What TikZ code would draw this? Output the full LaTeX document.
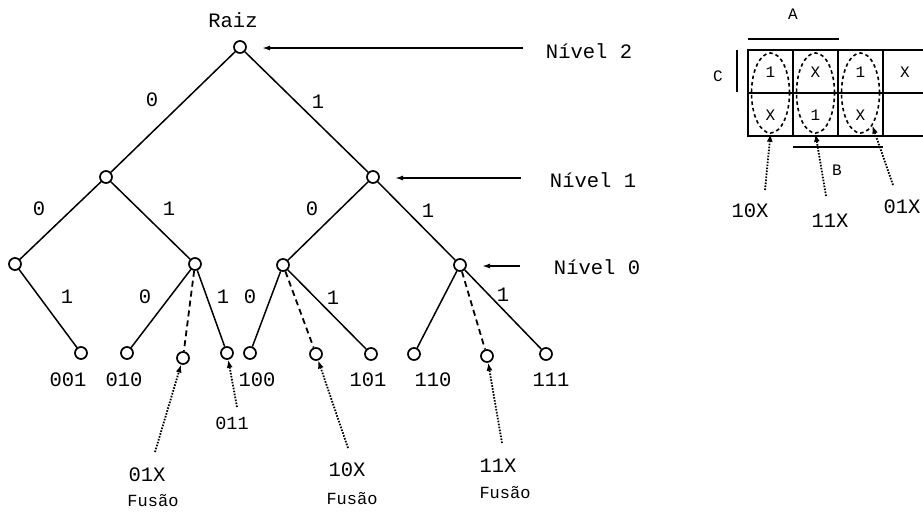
\documentclass[tikz,border=0pt]{standalone}
\usepackage{fontspec}
\setmonofont{Liberation Mono}
\usetikzlibrary{arrows.meta,shapes.geometric}
\tikzset{
  tnode/.style={circle,draw,line width=1.7pt,inner sep=0pt,minimum size=12pt},
  edge/.style={line width=1.5pt},
  dedge/.style={line width=1.8pt,dash pattern=on 6pt off 4pt},
  lbl/.style={font=\ttfamily\fontsize{20.5}{24}\selectfont,inner sep=0pt},
  small/.style={font=\ttfamily\fontsize{17}{20}\selectfont,inner sep=0pt},
  mid/.style={font=\ttfamily\fontsize{18.5}{22}\selectfont,inner sep=0pt},
  kl/.style={font=\ttfamily\fontsize{16}{18}\selectfont,inner sep=0pt},
  larrow/.style={line width=1.5pt,-{Latex[length=8pt,width=5pt]}},
  darrow/.style={line width=1.8pt,dash pattern=on 1.6pt off 1.4pt,-{Latex[length=8pt,width=6pt]}},
  kline/.style={line width=1.8pt},
  loop/.style={ellipse,draw,line width=1.6pt,dash pattern=on 3.5pt off 3pt,minimum width=38pt,minimum height=80pt,inner sep=0pt}
}
\begin{document}
\begin{tikzpicture}[x=1pt,y=-1pt]
\useasboundingbox (0,0) rectangle (923,512);
% tree nodes
\node[tnode] (root) at (240,47) {};
\node[tnode] (L) at (106,177) {};
\node[tnode] (R) at (373,177) {};
\node[tnode] (LL) at (15,264) {};
\node[tnode] (LR) at (195,264) {};
\node[tnode] (RL) at (283,265) {};
\node[tnode] (RR) at (460,265) {};
\node[tnode] (n001) at (81,353) {};
\node[tnode] (n010) at (127,353) {};
\node[tnode] (x01) at (183,358) {};
\node[tnode] (n011) at (227,353) {};
\node[tnode] (n100) at (250,353) {};
\node[tnode] (x10) at (316,354) {};
\node[tnode] (n101) at (371,354) {};
\node[tnode] (n110) at (414,354) {};
\node[tnode] (x11) at (487,356) {};
\node[tnode] (n111) at (546,354) {};
% edges
\draw[edge] (root) -- (L);
\draw[edge] (root) -- (R);
\draw[edge] (L) -- (LL);
\draw[edge] (L) -- (LR);
\draw[edge] (R) -- (RL);
\draw[edge] (R) -- (RR);
\draw[edge] (LL) -- (n001);
\draw[edge] (LR) -- (n010);
\draw[edge] (LR) -- (n011);
\draw[dedge] (LR) -- (x01);
\draw[edge] (RL) -- (n100);
\draw[edge] (RL) -- (n101);
\draw[dedge] (RL) -- (x10);
\draw[edge] (RR) -- (n110);
\draw[edge] (RR) -- (n111);
\draw[dedge] (RR) -- (x11);
% edge labels
\node[lbl] (e1) at (152,100) {0};
\node[lbl] (e2) at (318,102) {1};
\node[lbl] (e3) at (39,209) {0};
\node[lbl] (e4) at (169,209) {1};
\node[lbl] (e5) at (312,209) {0};
\node[lbl] (e6) at (428,211) {1};
\node[lbl] (e7) at (67,297) {1};
\node[lbl] (e8) at (145,297) {0};
\node[lbl] (e9) at (223,297) {1};
\node[lbl] (e10) at (250,297) {0};
\node[lbl] (e11) at (333,298) {1};
\node[lbl] (e12) at (503,295) {1};
% top label
\node[lbl] (raiz) at (233,20) {Raiz};
% level arrows
\coordinate (s2) at (523,48);
\coordinate (s1) at (521,178);
\coordinate (s0) at (520,266);
\draw[larrow] (s2) -- ([xshift=22pt,yshift=-1pt]root.center);
\draw[larrow] (s1) -- ([xshift=22pt,yshift=-1pt]R.center);
\draw[larrow] (s0) -- ([xshift=22pt,yshift=-1pt]RR.center);
\node[lbl] (niv2) at (589,51) {Nível 2};
\node[lbl] (niv1) at (593,180) {Nível 1};
\node[lbl] (niv0) at (597,267) {Nível 0};
% leaf labels
\node[lbl] (t001) at (68,380) {001};
\node[lbl] (t010) at (124,380) {010};
\node[lbl] (t100) at (257,380) {100};
\node[lbl] (t101) at (368,380) {101};
\node[lbl] (t110) at (433,380) {110};
\node[lbl] (t111) at (551,380) {111};
\node[mid] (t011) at (232,423) {011};
% fusion labels
\node[lbl] (f01) at (147,475) {01X};
\node[small] (g01) at (153,501) {Fusão};
\node[lbl] (f10) at (347,470) {10X};
\node[small] (g10) at (352,499) {Fusão};
\node[lbl] (f11) at (498,466) {11X};
\node[small] (g11) at (505,493) {Fusão};
% dotted arrows
\coordinate (d01) at (155,452);
\coordinate (d011) at (237,407);
\coordinate (d10) at (348,448);
\coordinate (d11) at (502,443);
\draw[darrow] (d01) -- (x01);
\draw[darrow] (d011) -- (n011);
\draw[darrow] (d10) -- (x10);
\draw[darrow] (d11) -- (x11);
% Karnaugh map
\draw[kline] (935,50) -- (748,50) -- (748,136) -- (935,136);
\draw[kline] (748,93) -- (935,93);
\draw[kline] (793,50) -- (793,136);
\draw[kline] (838,50) -- (838,136);
\draw[kline] (883,50) -- (883,136);
\node[kl] (c11) at (770.5,72) {1};
\node[kl] (c12) at (815.5,72) {X};
\node[kl] (c13) at (860.5,72) {1};
\node[kl] (c14) at (905,72) {X};
\node[kl] (c21) at (770.5,115) {X};
\node[kl] (c22) at (815.5,115) {1};
\node[kl] (c23) at (860.5,115) {X};
\node[loop] (k1) at (770.5,93) {};
\node[loop] (k2) at (815.5,93) {};
\node[loop] (k3) at (860.5,93) {};
\coordinate (Aa) at (748,39);
\coordinate (Ab) at (839,39);
\draw[kline] (Aa) -- (Ab);
\node[kl] (lA) at (793,14) {A};
\coordinate (Ca) at (737,50);
\coordinate (Cb) at (737,92);
\draw[line width=2.5pt] (Ca) -- (Cb);
\node[kl] (lC) at (718,76) {C};
\coordinate (Ba) at (793,147);
\coordinate (Bb) at (883,147);
\draw[kline] (Ba) -- (Bb);
\node[kl] (lB) at (837,170) {B};
\coordinate (q1) at (765,190);
\coordinate (q2) at (826,196);
\coordinate (q3) at (893,185);
\draw[darrow] (q1) -- (k1.south);
\draw[darrow] (q2) -- (k2.south);
\draw[darrow] (q3) -- (k3.-70);
\node[lbl] (m10) at (750,211) {10X};
\node[lbl] (m11) at (830,221) {11X};
\node[lbl] (m01) at (902,207) {01X};
\end{tikzpicture}
\end{document}
